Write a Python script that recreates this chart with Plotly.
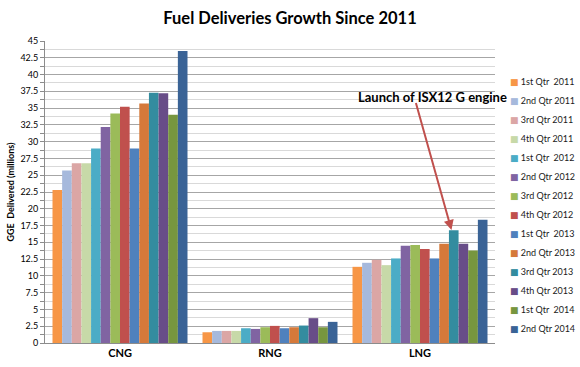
import plotly.graph_objects as go

categories = ["CNG", "RNG", "LNG"]
quarters = ["1st Qtr  2011", "2nd Qtr 2011", "3rd Qtr 2011", "4th Qtr 2011",
            "1st Qtr  2012", "2nd Qtr 2012", "3rd Qtr 2012", "4th Qtr 2012",
            "1st Qtr  2013", "2nd Qtr 2013", "3rd Qtr 2013", "4th Qtr 2013",
            "1st Qtr  2014", "2nd Qtr 2014"]
cng = [22.8, 25.7, 26.8, 26.8, 29.0, 32.2, 34.2, 35.2, 29.0, 35.7, 37.3, 37.2, 34.0, 43.5]
rng = [1.6, 1.8, 1.8, 1.8, 2.2, 2.1, 2.35, 2.55, 2.2, 2.35, 2.6, 3.7, 2.35, 3.15]
lng = [11.35, 11.95, 12.4, 11.6, 12.6, 14.5, 14.6, 14.0, 12.6, 14.8, 16.8, 14.8, 13.8, 18.35]
colors = ["#F79646", "#A6B9DC", "#DBA6A5", "#C7D9A8", "#4BACC6", "#8064A2", "#9BBB59",
          "#C0504D", "#4F81BD", "#D5793A", "#338C9F", "#684D88", "#77963F", "#3A6396"]

FONT = "Lato"
fig = go.Figure()
for i, q in enumerate(quarters):
    fig.add_trace(go.Bar(
        x=categories, y=[cng[i], rng[i], lng[i]], name=q,
        marker=dict(color=colors[i], line=dict(width=0)),
        showlegend=False,
    ))
# legend entries: small coloured square glyph placed right next to the label
for i, q in enumerate(quarters):
    fig.add_trace(go.Scatter(
        x=[None], y=[None], mode="markers",
        name=f'<span style="color:{colors[i]};font-family:DejaVu Sans;font-size:9px">■</span> {q}',
        marker=dict(symbol="square", size=1, color="rgba(0,0,0,0)"),
        showlegend=True,
    ))

fig.update_layout(
    width=580, height=367,
    margin=dict(l=45, r=85, t=41, b=24, autoexpand=False),
    paper_bgcolor="white", plot_bgcolor="white",
    barmode="group", bargap=0.1, bargroupgap=0,
    font=dict(family=FONT, size=10, color="#000000"),
    title=dict(text="Fuel Deliveries Growth Since 2011", x=0.5, xref="container",
               xanchor="center", y=1 - 18 / 367, yanchor="middle",
               font=dict(family=FONT, size=16.5, weight="bold", color="#000000")),
    showlegend=True,
    legend=dict(xref="container", x=470 / 580, xanchor="left",
                yref="container", y=1 - 67 / 367, yanchor="top",
                font=dict(family=FONT, size=9, color="#1a1a1a"),
                itemwidth=30, bgcolor="rgba(0,0,0,0)", borderwidth=0,
                maxheight=300),
)
fig.update_xaxes(
    showline=True, linecolor="#8c8c8c", linewidth=1,
    tickfont=dict(family=FONT, size=11, weight="bold", color="#000000"),
    ticks="", showgrid=False, automargin=False,
)
fig.update_yaxes(
    range=[0, 45], dtick=2.5, tick0=0, automargin=False,
    showline=True, linecolor="#8c8c8c", linewidth=1,
    ticks="outside", ticklen=4, tickcolor="#8c8c8c",
    gridcolor="#A6A6A6", gridwidth=1,
    minor=dict(dtick=1.25, showgrid=True, gridcolor="#D9D9D9", gridwidth=1,
               ticks="outside", ticklen=4, tickcolor="#8c8c8c"),
    tickfont=dict(family=FONT, size=9, color="#000000"),
    title=dict(text="GGE  Delivered (millions)", standoff=4,
               font=dict(family=FONT, size=9, weight="bold", color="#000000")),
    zeroline=False,
)
fig.add_annotation(
    x=2.21, y=16.85, xref="x", yref="y",
    ax=1.97, ay=36.0, axref="x", ayref="y",
    text="", showarrow=True, arrowhead=2, arrowsize=1, arrowwidth=2,
    arrowcolor="#C0504D",
)
fig.add_annotation(
    x=(432 - 45) / (495 - 45), y=(343 - 97) / 302, xref="paper", yref="paper",
    text="<b>Launch of ISX12 G engine</b>", xanchor="center", yanchor="middle",
    showarrow=False, font=dict(family=FONT, size=13, color="#000000"),
)

fig.write_html("out.html", config={"displayModeBar": False},
               post_script="document.body.style.margin='0';")
